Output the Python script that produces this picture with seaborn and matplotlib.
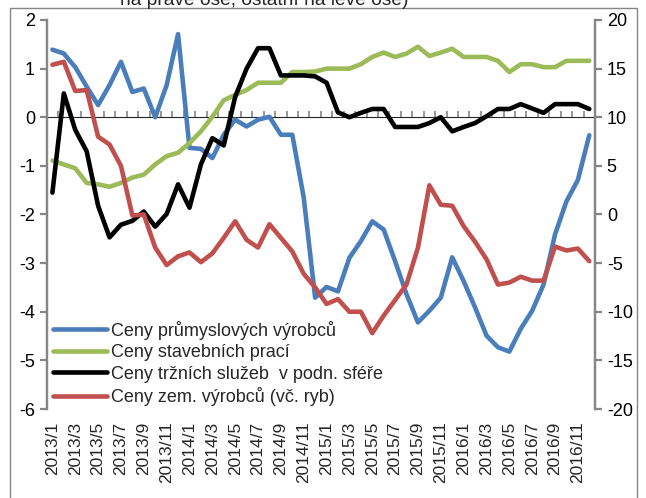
import numpy as np
import pandas as pd
import seaborn as sns
import matplotlib.pyplot as plt
from matplotlib.patches import Rectangle


# Data (y/y changes in %, monthly 2013/1 - 2016/12)
months = [f"{y}/{m}" for y in range(2013, 2017) for m in range(1, 13)]

industrial = [1.39, 1.31, 1.03, 0.63, 0.25, 0.66, 1.14, 0.52, 0.59, 0.0, 0.66, 1.71,
              -0.63, -0.65, -0.84, -0.36, -0.05, -0.19, -0.05, 0.01, -0.36, -0.36, -1.65, -3.71,
              -3.49, -3.58, -2.89, -2.55, -2.14, -2.31, -2.96, -3.64, -4.22, -3.98, -3.71, -2.88,
              -3.37, -3.91, -4.49, -4.73, -4.82, -4.35, -3.98, -3.44, -2.41, -1.73, -1.29, -0.37]

construction = [-0.89, -0.97, -1.05, -1.35, -1.38, -1.43, -1.35, -1.24, -1.18, -0.97, -0.80, -0.73,
                -0.53, -0.29, 0.01, 0.35, 0.46, 0.56, 0.71, 0.71, 0.71, 0.93, 0.93, 0.94,
                1.0, 1.0, 1.0, 1.09, 1.24, 1.33, 1.24, 1.31, 1.45, 1.26, 1.33, 1.41,
                1.24, 1.24, 1.24, 1.16, 0.93, 1.09, 1.09, 1.03, 1.03, 1.16, 1.16, 1.16]

services = [-1.55, 0.49, -0.26, -0.70, -1.82, -2.47, -2.21, -2.13, -1.94, -2.25, -1.99, -1.38,
            -1.86, -0.97, -0.43, -0.58, 0.42, 1.0, 1.42, 1.42, 0.86, 0.86, 0.86, 0.84,
            0.71, 0.10, 0.0, 0.09, 0.17, 0.17, -0.20, -0.20, -0.20, -0.12, 0.0, -0.29,
            -0.20, -0.12, 0.02, 0.17, 0.17, 0.27, 0.18, 0.09, 0.27, 0.27, 0.27, 0.17]

# agricultural prices - right axis
agri = [15.4, 15.7, 12.7, 12.8, 8.0, 7.2, 5.0, -0.1, 0.0, -3.4, -5.2, -4.3,
        -3.9, -4.9, -4.0, -2.4, -0.7, -2.6, -3.4, -1.0, -2.4, -3.8, -6.1, -7.5,
        -9.2, -8.7, -10.0, -10.0, -12.2, -10.4, -8.8, -7.2, -3.4, 3.0, 1.0, 0.9,
        -1.2, -2.8, -4.6, -7.2, -7.0, -6.4, -6.8, -6.8, -3.3, -3.7, -3.5, -4.8]

labels = ['Ceny průmyslových výrobců', 'Ceny stavebních prací',
          'Ceny tržních služeb  v podn. sféře', 'Ceny zem. výrobců (vč. ryb)']
colors = ['#4a7ebb', '#9bbb59', '#000000', '#c0504d']

df = pd.DataFrame({'i': range(len(months)), 'month': months,
                   labels[0]: industrial, labels[1]: construction,
                   labels[2]: services, labels[3]: agri})

sns.set_style('white')
plt.rcParams['font.family'] = ['Liberation Sans', 'DejaVu Sans']
plt.rcParams['axes.unicode_minus'] = False
gray = '#868686'

fig = plt.figure(figsize=(6.46, 4.98), dpi=100)
ax = fig.add_axes([46.7 / 646, 89 / 498, (595 - 46.7) / 646, 389 / 498])
ax2 = ax.twinx()

for lab, col in zip(labels[:3], colors[:3]):
    sns.lineplot(data=df, x='i', y=lab, ax=ax, color=col, lw=3.3, label=lab, legend=False)
sns.lineplot(data=df, x='i', y=labels[3], ax=ax2, color=colors[3], lw=3.3, label=labels[3], legend=False)
handles = ax.get_lines() + ax2.get_lines()

ax.set_xlim(-0.5, len(months) - 0.5)
ax.set_ylim(-6, 2)
ax2.set_ylim(-20, 20)
ax.set_yticks(range(-6, 3))
ax2.set_yticks(range(-20, 21, 5))
ax.set_xlabel('')
ax.set_ylabel('')
ax2.set_ylabel('')

for a in (ax, ax2):
    for s in ('top', 'bottom'):
        a.spines[s].set_visible(False)
    for s in ('left', 'right'):
        a.spines[s].set_color(gray)
        a.spines[s].set_linewidth(1.6)
    a.tick_params(axis='y', colors=gray, labelcolor='black', labelsize=13,
                  length=5, width=1.6, direction='out')

# category labels at the bottom
ax.set_xticks(range(0, len(months), 2))
ax.set_xticklabels(months[::2], rotation=90, fontsize=12.5)
ax.tick_params(axis='x', length=0, pad=9)

# zero line with tick marks between categories
zero = ax.secondary_xaxis(0.75)
zero.spines['bottom'].set_color(gray)
zero.spines['bottom'].set_linewidth(2)
zero.set_xticks(np.arange(0.5, len(months) - 1, 1))
zero.tick_params(axis='x', direction='out', length=4, width=1.2, colors=gray, labelbottom=False)
zero.set_xticklabels([])

leg = ax.legend(handles, labels, loc='upper left', bbox_to_anchor=(-0.008, 0.255),
                frameon=False, fontsize=13, handlelength=3.0, handletextpad=0.2,
                labelspacing=0.25, borderaxespad=0.2)

fig.text(120 / 646, 1 - 5 / 498, 'na pravé ose, ostatní na levé ose)', fontsize=13.8, va='baseline')
fig.patches.append(Rectangle((10 / 646, -0.01), 627 / 646, 490 / 498 + 0.01, transform=fig.transFigure,
                             fill=False, edgecolor=gray, lw=1))

plt.savefig('out.png', dpi=100)
